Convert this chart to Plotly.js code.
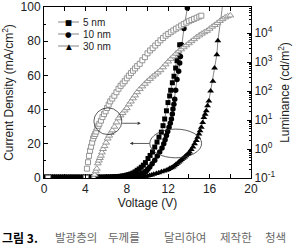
<!DOCTYPE html>
<html>
<head>
<meta charset="utf-8">
<script src="https://cdn.plot.ly/plotly-3.0.1.min.js"></script>
<style>html,body{margin:0;padding:0;background:#fff;}#chart{width:299px;height:251px;}</style>
</head>
<body>
<div id="chart"></div>
<script>
// ---- Data ----
// Current density (mA/cm^2), filled markers, left axis
var volt5 = [0,0.2,0.4,0.6,0.8,1.0,1.2,1.4,1.6,1.8,2.0,2.2,2.4,2.6,2.8,3.0,3.2,3.4,3.6,3.8,4.0,4.2,4.4,4.6,4.8,5.0,5.2,5.4,5.6,5.8,
  6.0,6.2,6.4,6.6,6.8,7.0,7.2,7.4,7.6,7.8,8.0,8.2,8.4,8.6,8.8,9.0,9.2,9.4,9.6,9.8,10.05,10.25,10.48,10.7,10.92,11.11,11.34,11.5,11.66,11.83,11.98,12.14,12.24,12.4,12.56,12.72,12.85,12.98,13.11];
var curr5 = [0.4,0.4,0.4,0.4,0.4,0.4,0.4,0.4,0.4,0.4,0.4,0.4,0.4,0.4,0.4,0.4,0.4,0.4,0.4,0.4,0.4,0.4,0.4,0.4,0.4,0.4,0.4,0.4,0.4,0.4,
  0.45,0.5,0.55,0.6,0.7,0.8,0.9,1.0,1.2,1.4,1.7,2.0,2.4,2.9,3.6,4.5,5.3,6.3,7.5,9.0,11.4,13.2,15.2,18.1,21.0,23.9,26.8,30.6,34.5,39.3,44.1,48.0,51.3,55.7,59.5,64.3,68.6,73.0,77.9];

var volt10 = [0,0.2,0.4,0.6,0.8,1.0,1.2,1.4,1.6,1.8,2.0,2.2,2.4,2.6,2.8,3.0,3.2,3.4,3.6,3.8,4.0,4.2,4.4,4.6,4.8,5.0,5.2,5.4,5.6,5.8,6.0,6.2,6.4,6.6,6.8,7.0,
  7.2,7.4,7.6,7.8,8.0,8.2,8.4,8.6,8.8,9.0,9.2,9.4,9.57,9.75,9.9,10.05,10.22,10.45,10.7,10.95,11.18,11.4,11.57,11.7,11.83,11.95,12.08,12.2,12.31,12.4,12.46,12.55,12.63,12.72,12.85,13.01,13.11,13.18,13.27,13.52,13.85];
var curr10 = [0.4,0.4,0.4,0.4,0.4,0.4,0.4,0.4,0.4,0.4,0.4,0.4,0.4,0.4,0.4,0.4,0.4,0.4,0.4,0.4,0.4,0.4,0.4,0.4,0.4,0.4,0.4,0.4,0.4,0.4,0.4,0.4,0.4,0.4,0.4,0.4,
  0.5,0.55,0.6,0.7,0.8,0.95,1.1,1.3,1.6,1.9,2.2,2.5,2.9,3.5,4.3,5.2,6.5,8.3,10.4,12.8,15.2,17.6,20.0,22.4,24.9,27.2,29.7,32.0,34.5,37.4,40.3,43.2,46.1,51.3,57.6,62.4,67.2,71.1,77.9,87.5,99.4];

var volt30 = [0,0.2,0.4,0.6,0.8,1.0,1.2,1.4,1.6,1.8,2.0,2.2,2.4,2.6,2.8,3.0,3.2,3.4,3.6,3.8,4.0,4.2,4.4,4.6,4.8,5.0,5.2,5.4,5.6,5.8,6.0,6.2,6.4,6.6,6.8,7.0,7.2,7.4,7.6,7.8,8.0,8.2,8.4,
  8.6,8.8,9.0,9.2,9.4,9.6,9.8,10.0,10.2,10.4,10.6,10.86,11.1,11.35,11.6,11.83,12.0,12.15,12.3,12.46,12.6,12.75,12.9,13.04,13.17,13.3,13.45,13.59,13.72,13.85,13.97,14.07,14.23,14.39,14.55,14.72,14.85,14.97,15.08,15.2,15.33,15.45,15.57,15.68,15.8,15.93,16.1,16.32,16.48,16.7,16.8,17.3];
var curr30 = [0.4,0.4,0.4,0.4,0.4,0.4,0.4,0.4,0.4,0.4,0.4,0.4,0.4,0.4,0.4,0.4,0.4,0.4,0.4,0.4,0.4,0.4,0.4,0.4,0.4,0.4,0.4,0.4,0.4,0.4,0.4,0.4,0.4,0.4,0.4,0.4,0.4,0.4,0.4,0.4,0.4,0.4,0.4,
  0.45,0.5,0.55,0.6,0.7,0.8,1.0,1.2,1.5,1.8,2.2,2.7,3.1,3.6,4.1,4.6,5.0,5.5,6.0,6.5,7.2,7.9,8.6,9.4,10.1,10.8,11.5,12.3,13.0,13.7,14.4,15.2,16.6,18.1,20.0,22.0,23.9,25.8,27.7,29.7,32.5,35.4,37.3,39.3,42.2,45.1,50.9,56.6,64.3,72.1,80.2,103];

// Luminance (cd/m^2), open markers, right log axis
var lumVolt5 = [0.4,4.05,4.15,4.25,4.35,4.45,4.55,4.65,4.75,4.85,4.95,5.05,5.15,5.25,5.35,5.5,5.65,5.8,5.95,6.1,6.25,6.4,6.6,6.8,7.0,7.2,7.4,7.6,7.8,8.0,
  8.2,8.4,8.6,8.8,9.0,9.25,9.5,9.75,10.0,10.25,10.5,10.75,11.0,11.25,11.5,11.75,12.0,12.25,12.5,12.75,13.0,13.25,13.5,13.75,14.0,14.25,14.5,14.75,15.0,15.2];
var lum5 = [0.1,0.1,0.21,0.35,0.58,0.87,1.2,1.66,2.3,2.8,3.3,4.0,5.2,6.3,7.4,9.5,12.6,16,20,26,34,44,55,69,91,120,151,182,219,275,
  339,417,501,603,724,871,1150,1480,2000,2510,3020,3720,4570,5620,6760,8130,9330,10700,12300,14100,15800,18200,20400,22900,25700,28200,30900,33900,37200,39800];

var lumVolt30 = [4.8,4.9,5.0,5.1,5.2,5.3,5.4,5.5,5.6,5.7,5.85,6.0,6.15,6.3,6.45,6.6,6.8,7.0,7.2,7.4,7.6,7.8,8.0,8.2,8.4,8.6,8.8,9.0,9.25,9.5,9.75,
  10.0,10.25,10.5,10.75,11.0,11.25,11.5,11.75,12.0,12.25,12.5,12.75,13.0,13.25,13.5,13.75,14.0,14.25,14.5,14.75,15.0,15.25,15.5,15.75,16.0,16.25,16.5,16.75,17.0,17.25,17.5,17.75,18.0];
var lum30 = [0.1,0.13,0.17,0.21,0.32,0.4,0.49,0.59,0.76,1.0,1.26,1.66,2.3,2.9,3.6,4.4,5.9,8.3,11.5,14.5,17.4,21.4,25.7,34.7,43.6,56.2,70.8,91.2,117,145,178,
  219,263,316,372,437,525,661,832,1050,1290,1580,1950,2340,2750,3240,3800,4470,5250,6170,7240,8320,9550,10700,12000,14100,16600,19100,22400,26300,30200,34700,38000,40700];

var seriesNames = ['5 nm', '10 nm', '30 nm'];
var xTickVals = [0, 4, 8, 12, 16, 20];
var yTickVals = [0, 20, 40, 60, 80, 100];
var lumTickVals = [0.1, 1, 10, 100, 1000, 10000];
var lumTickText = ['10<sup>-1</sup>', '10<sup>0</sup>', '10<sup>1</sup>', '10<sup>2</sup>', '10<sup>3</sup>', '10<sup>4</sup>'];
var captionBold = '그림 3.';
var captionWords = ['발광층의', '두께를', '달리하여', '제작한', '청색'];

// ---- Traces ----
var lineStyle = {color: '#555', width: 0.7};
var traces = [
  {x: volt5, y: curr5, mode: 'lines+markers', name: seriesNames[0], line: lineStyle,
   marker: {symbol: 'square', size: 5, color: '#000'}},
  {x: volt10, y: curr10, mode: 'lines+markers', name: seriesNames[1], line: lineStyle,
   marker: {symbol: 'circle', size: 5.5, color: '#000'}},
  {x: volt30, y: curr30, mode: 'lines+markers', name: seriesNames[2], line: lineStyle,
   marker: {symbol: 'triangle-up', size: 6, color: '#000'}},
  {x: lumVolt5, y: lum5, yaxis: 'y2', mode: 'markers', name: seriesNames[0] + ' L',
   marker: {symbol: 'square', size: 5, color: '#fff', line: {color: '#8a8a8a', width: 0.9}}},
  {x: lumVolt30, y: lum30, yaxis: 'y2', mode: 'markers', name: seriesNames[2] + ' L',
   marker: {symbol: 'triangle-up', size: 6, color: '#fff', line: {color: '#8a8a8a', width: 0.9}}}
];

// ---- Layout helpers (pixel -> paper) ----
var PL = 44, PR = 251, PT = 7, PB = 178;
function px(x) { return (x - PL) / (PR - PL); }
function py(y) { return (PB - y) / (PB - PT); }

var legendSymbols = ['■', '●', '▲'];
var legendY = [22, 34, 46];
var shapes = [
  {type: 'circle', xref: 'x', yref: 'y', x0: 4.82, x1: 7.52, y0: 25.4, y1: 41.0, line: {color: '#333', width: 0.8}},
  {type: 'circle', xref: 'x', yref: 'y', x0: 10.22, x1: 15.23, y0: 11.8, y1: 28.6, line: {color: '#333', width: 0.8}},
  {type: 'line', xref: 'x', yref: 'y', x0: 7.55, x1: 9.0, y0: 32, y1: 32, line: {color: '#333', width: 0.8}},
  {type: 'line', xref: 'x', yref: 'y', x0: 8.6, x1: 10.2, y0: 20.2, y1: 20.2, line: {color: '#333', width: 0.8}}
];
var annotations = [
  {x: 9.35, y: 32, xref: 'x', yref: 'y', ax: -6, ay: 0, text: ' ', showarrow: true, arrowhead: 2, arrowsize: 0.8, arrowwidth: 0.8, arrowcolor: '#333'},
  {x: 8.3, y: 20.2, xref: 'x', yref: 'y', ax: 6, ay: 0, text: ' ', showarrow: true, arrowhead: 2, arrowsize: 0.8, arrowwidth: 0.8, arrowcolor: '#333'}
];
for (var i = 0; i < 3; i++) {
  shapes.push({type: 'line', xref: 'paper', yref: 'paper', x0: px(58), x1: px(79), y0: py(legendY[i]), y1: py(legendY[i]),
    line: {color: '#777', width: 0.9}});
  annotations.push({xref: 'paper', yref: 'paper', x: px(68.5), y: py(legendY[i]), text: legendSymbols[i], showarrow: false,
    xanchor: 'center', yanchor: 'middle', font: {family: 'DejaVu Sans', size: 7.5, color: '#000'}});
  annotations.push({xref: 'paper', yref: 'paper', x: px(81), y: py(legendY[i]), text: seriesNames[i], showarrow: false,
    xanchor: 'left', yanchor: 'middle', font: {size: 10, color: '#222'}});
}
annotations.push({xref: 'paper', yref: 'paper', x: px(0), y: py(237), text: '<b>' + captionBold + '</b>', showarrow: false,
  xanchor: 'left', yanchor: 'middle', font: {family: 'Noto Sans CJK KR', size: 12, color: '#000'}});
var wordX = [53, 106, 162, 218, 263];
for (var k = 0; k < captionWords.length; k++) {
  annotations.push({xref: 'paper', yref: 'paper', x: px(wordX[k]), y: py(237), text: captionWords[k], showarrow: false,
    xanchor: 'left', yanchor: 'middle', font: {family: 'Noto Sans CJK KR', size: 11.5, color: '#666'}});
}

var layout = {
  width: 299, height: 251,
  margin: {l: 44, r: 48, t: 7, b: 73, pad: 0},
  paper_bgcolor: '#fff', plot_bgcolor: '#fff',
  font: {family: 'Liberation Sans, Arial, sans-serif', size: 12, color: '#222'},
  showlegend: false,
  xaxis: {range: [0, 20], tickmode: 'array', tickvals: xTickVals, ticks: 'inside', ticklen: 4, tickcolor: '#000',
    ticklabeloverflow: 'allow',
    showline: true, linecolor: '#000', linewidth: 1, mirror: 'ticks', zeroline: false, showgrid: false,
    minor: {dtick: 2, ticks: 'inside', ticklen: 4, tickcolor: '#000'},
    title: {text: 'Voltage (V)', font: {size: 12}, standoff: 3}},
  yaxis: {range: [0, 100], tickmode: 'array', tickvals: yTickVals, ticks: 'inside', ticklen: 4, tickcolor: '#000',
    ticklabeloverflow: 'allow',
    showline: true, linecolor: '#000', linewidth: 1, zeroline: false, showgrid: false,
    minor: {dtick: 10, ticks: 'inside', ticklen: 2, tickcolor: '#000'},
    title: {text: 'Current Density (mA/cm<sup>2</sup>)', font: {size: 12}, standoff: 4}},
  yaxis2: {type: 'log', range: [-1, 4.9], overlaying: 'y', side: 'right', tickmode: 'array', tickvals: lumTickVals, ticktext: lumTickText,
    ticklabeloverflow: 'allow',
    ticks: 'inside', ticklen: 4, tickcolor: '#000', showline: true, linecolor: '#000', linewidth: 1, zeroline: false, showgrid: false,
    minor: {dtick: 'D1', ticks: 'inside', ticklen: 2, tickcolor: '#000'},
    title: {text: 'Luminance (cd/m<sup>2</sup>)', font: {size: 12}, standoff: 6}},
  shapes: shapes,
  annotations: annotations
};

Plotly.newPlot('chart', traces, layout, {staticPlot: true, displayModeBar: false});
</script>
</body>
</html>
